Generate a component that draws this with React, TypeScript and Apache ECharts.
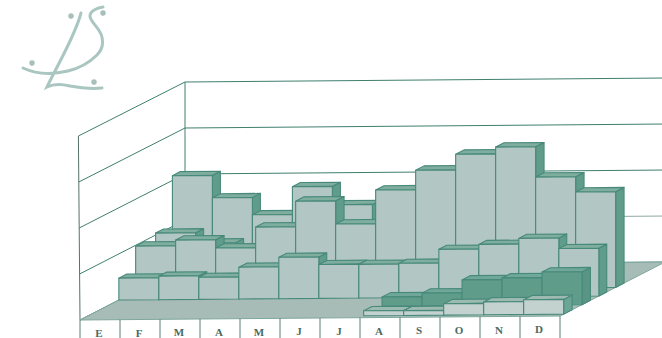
import React, { useEffect, useRef } from "react";
import * as echarts from "echarts";

const months = ["E", "F", "M", "A", "M", "J", "J", "A", "S", "O", "N", "D"];
const wallTicks = [0, 25, 50, 75, 100];

// One array per depth row, from the front of the floor to the back.
const rowFront = [null, null, null, null, null, null, null, 2.7, 2.6, 6.2, 7, 8];
const rowDark = [null, null, null, null, null, null, null, 5.1, 7, 14, 14.9, 17.9];
const rowLow = [11.9, 12.8, 12, 17.3, 22.5, 18.4, 18.3, 18.7, 26.1, 28.6, 31.7, 26];
const rowMid = [24.6, 27.7, 23.2, 34.4, 48.3, 35.7, 54, 64.6, 73.1, 76.8, 60.3, 52];
const rowSmall = [26.1, 20.5, null, null, null, null, null, null, null, null, null, null];
const rowBack = [52.6, 40.4, 31, 46.1, 36.1, null, null, null, null, null, null, null];

const DEPTH_X = 105;
const DEPTH_Y = 54;
const SHEAR = 0.0083;
const LOGO_STROKE = "#a9c6c0";
const EDGE = "#47897a";

registerLogo();

function registerLogo() {
  const d =
    "M81 13C75 36 60 60 47 87C55 83 62 84 70 86C80 88 92 89 102 88" +
    "M103 7C97 8 90 11 90 16C90 22 100 28 102 37C104 45 102 50 97 55C90 62 80 68 68 71C55 74 38 75 23 68";
  echarts.graphic.registerShape("brandMark", echarts.graphic.extendPath(d, {}));
}

// Oblique projection: the category axis supplies x, the value axis supplies height,
// and `f` moves a point from the front of the floor (0) to the back wall (1).
function project(api: any, edge: number, value: number, f: number) {
  const band = api.size([1, 0])[0];
  const [cx, y] = api.coord([0, value]);
  const x0 = cx - band / 2 + edge * band;
  return [x0 + DEPTH_X * f, y - DEPTH_Y * f - edge * band * SHEAR];
}

type RowStyle = { f: number; depth: number; front: string; top: string; side: string; edge: string };

function barSeries(values: (number | null)[], s: RowStyle, z: number) {
  return {
    type: "custom",
    coordinateSystem: "cartesian2d",
    clip: false,
    z,
    silent: true,
    data: values.map((v, i) => [i, v]).filter((p) => p[1] !== null),
    renderItem: (_: any, api: any) => {
      const i = api.value(0);
      const v = api.value(1);
      const a = project(api, i, 0, s.f);
      const b = project(api, i + 1, 0, s.f);
      const c = project(api, i + 1, v, s.f);
      const e = project(api, i, v, s.f);
      const bb = project(api, i + 1, 0, s.f + s.depth);
      const cb = project(api, i + 1, v, s.f + s.depth);
      const eb = project(api, i, v, s.f + s.depth);
      const line = { stroke: s.edge, lineWidth: 1.1, lineJoin: "round" };
      return {
        type: "group",
        children: [
          { type: "polygon", shape: { points: [b, bb, cb, c] }, style: { fill: s.side, ...line } },
          { type: "polygon", shape: { points: [e, c, cb, eb] }, style: { fill: s.top, ...line } },
          { type: "polygon", shape: { points: [a, b, c, e] }, style: { fill: s.front, ...line } },
        ],
      };
    },
  };
}

function wallSeries() {
  return {
    type: "custom",
    coordinateSystem: "cartesian2d",
    clip: false,
    z: 1,
    silent: true,
    data: wallTicks.map((t, i) => [i, t]),
    renderItem: (_: any, api: any) => {
      const t = api.value(1);
      const n = months.length;
      const front = project(api, 0, t, 0);
      front[0] -= (1.6 * t) / 100;
      const corner = project(api, 0, t, 1);
      const far = project(api, n, t, 1);
      const color = t === 25 ? "#8fa8a2" : "#3f7f6e";
      const seg = (p: number[], q: number[], stroke: string) => ({
        type: "line",
        shape: { x1: p[0], y1: p[1], x2: q[0], y2: q[1] },
        style: { stroke, lineWidth: 1 },
      });
      const children: any[] = [seg(front, corner, "#3f7f6e"), seg(corner, far, color)];
      if (t === 100) {
        children.push(seg(front, project(api, 0, 0, 0), "#55706a"));
        children.push(seg(corner, project(api, 0, 0, 1), "#3f7f6e"));
      }
      return { type: "group", children };
    },
  };
}

function floorSeries() {
  return {
    type: "custom",
    coordinateSystem: "cartesian2d",
    clip: false,
    z: 2,
    silent: true,
    data: [[0, 0]],
    renderItem: (_: any, api: any) => {
      const n = months.length;
      const points = [
        project(api, 0, 0, 0),
        project(api, n, 0, 0),
        project(api, n, 0, 1),
        project(api, 0, 0, 1),
      ];
      return {
        type: "polygon",
        shape: { points },
        style: { fill: "#a7bcb6", stroke: "#7ea79b", lineWidth: 1 },
      };
    },
  };
}

// Month strip under the floor's front edge: one cell divider and one letter per month.
function monthStrip() {
  return {
    type: "custom",
    coordinateSystem: "cartesian2d",
    clip: false,
    z: 20,
    silent: true,
    data: months.map((_, i) => [i, 0]),
    renderItem: (_: any, api: any) => {
      const i = api.value(0);
      const p = project(api, i, 0, 0);
      const q = project(api, i + 1, 0, 0);
      const children: any[] = [
        {
          type: "line",
          shape: { x1: p[0], y1: p[1], x2: p[0], y2: 338 },
          style: { stroke: "#5c7f76", lineWidth: 1 },
        },
        {
          type: "text",
          style: {
            text: months[i],
            x: (p[0] + q[0]) / 2 - 1,
            y: p[1] + 13,
            align: "center",
            verticalAlign: "middle",
            fontFamily: "Liberation Serif",
            fontWeight: "bold",
            fontSize: 11,
            fill: "#4a6a62",
          },
        },
      ];
      if (i === months.length - 1) {
        children.push({
          type: "line",
          shape: { x1: q[0], y1: q[1], x2: q[0], y2: 338 },
          style: { stroke: "#5c7f76", lineWidth: 1 },
        });
      }
      return { type: "group", children };
    },
  };
}

const LIGHT = { front: "#b2c7c3", top: "#7fae9f", side: "#5f9c8a", edge: EDGE };

export default function App() {
  const ref = useRef<HTMLDivElement>(null);

  useEffect(() => {
    document.body.style.margin = "0";
    const chart = echarts.init(ref.current!, undefined, { renderer: "svg" });
    chart.setOption({
      animation: false,
      backgroundColor: "#ffffff",
      grid: { left: 80, top: 136, width: 480, height: 184 },
      xAxis: { type: "category", data: months, show: false },
      yAxis: { type: "value", min: 0, max: 100, interval: 25, show: false },
      graphic: [
        {
          type: "brandMark",
          x: 0,
          y: 0,
          style: { fill: "none", stroke: LOGO_STROKE, lineWidth: 3, lineCap: "round" },
        },
        { type: "circle", shape: { cx: 71, cy: 16, r: 2.8 }, style: { fill: "#a7c0bb" } },
        { type: "circle", shape: { cx: 103, cy: 13, r: 2.8 }, style: { fill: "#a7c0bb" } },
        { type: "circle", shape: { cx: 32, cy: 63, r: 2.8 }, style: { fill: "#a7c0bb" } },
        { type: "circle", shape: { cx: 94, cy: 82, r: 2.8 }, style: { fill: "#a7c0bb" } },
      ],
      series: [
        wallSeries(),
        floorSeries(),
        barSeries(rowBack, { f: 0.88, depth: 0.076, ...LIGHT }, 3),
        barSeries(rowSmall, { f: 0.72, depth: 0.076, ...LIGHT }, 4),
        barSeries(rowMid, { f: 0.53, depth: 0.08, ...LIGHT }, 5),
        barSeries(rowLow, { f: 0.37, depth: 0.075, ...LIGHT }, 6),
        barSeries(rowDark, { f: 0.21, depth: 0.08, front: "#5f9c8a", top: "#6fa898", side: "#5a9583", edge: EDGE }, 7),
        barSeries(rowFront, { f: 0.035, depth: 0.08, front: "#c3d2cf", top: "#9dbab1", side: "#6ba596", edge: EDGE }, 8),
        monthStrip(),
      ],
    });
    return () => chart.dispose();
  }, []);

  return <div ref={ref} style={{ position: "absolute", left: 0, top: 0, width: 662, height: 338 }} />;
}
